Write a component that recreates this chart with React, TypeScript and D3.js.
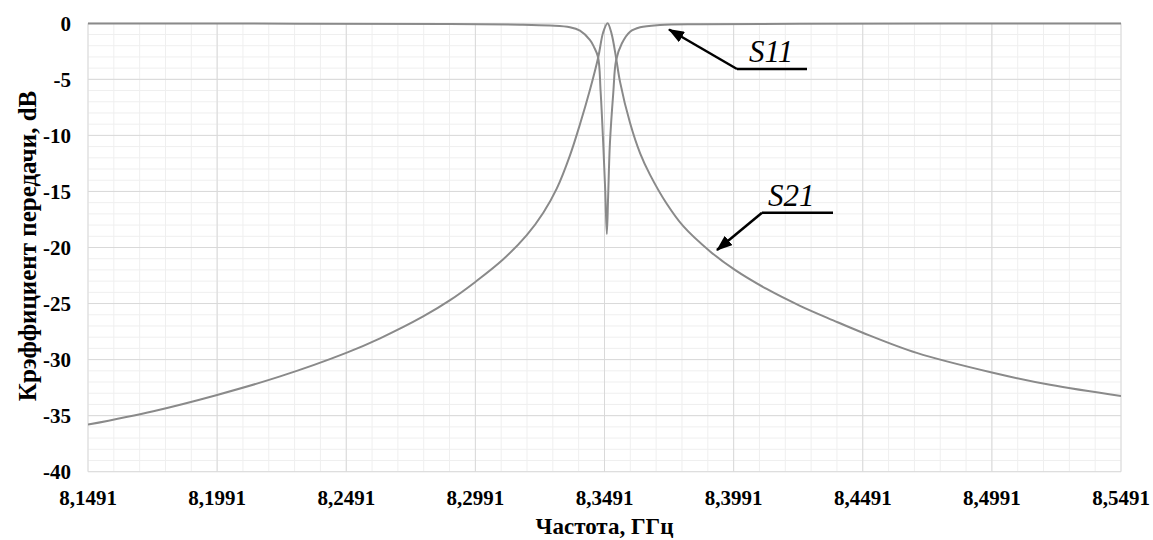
import React from "react";
import * as d3 from "d3";

// S21 (transmission): frequency in GHz, level in dB
const s21Freq = [
  8.1491, 8.1744, 8.1991, 8.2235, 8.2491, 8.2622, 8.2789, 8.2893, 8.2992,
  8.3099, 8.319, 8.3254, 8.3306, 8.3357, 8.3396, 8.3435, 8.3467, 8.3486,
  8.3503, 8.3518, 8.3536, 8.3551, 8.359, 8.3629, 8.3667, 8.3732, 8.3796,
  8.39, 8.3996, 8.4119, 8.4248, 8.4377, 8.4491, 8.47, 8.4991, 8.5216, 8.5491,
];
const s21Level = [
  -35.8, -34.6, -33.15, -31.5, -29.4, -28.1, -26.15, -24.7, -23.05, -21.05,
  -18.9, -16.9, -14.75, -11.8, -9.0, -5.9, -3.0, -0.8, 0, -0.9, -3.1, -5.2,
  -8.9, -11.6, -13.5, -16.1, -18.1, -20.35, -22.0, -23.7, -25.2, -26.5, -27.6,
  -29.4, -31.15, -32.25, -33.25,
];

// S11 (reflection)
const s11Freq = [
  8.1491, 8.2312, 8.2893, 8.3164, 8.328, 8.3357, 8.3396, 8.3435, 8.345,
  8.3466, 8.3476, 8.3486, 8.3494, 8.35, 8.3505, 8.3512, 8.3525, 8.3536,
  8.3558, 8.359, 8.3629, 8.3706, 8.3861, 8.4248, 8.5491,
];
const s11Level = [
  -0.02, -0.03, -0.06, -0.12, -0.2, -0.35, -0.66, -1.5, -2.1, -3.0, -6.1,
  -10.7, -15.0, -18.8, -15.5, -10.7, -6.2, -3.3, -1.8, -0.75, -0.35, -0.15,
  -0.08, -0.04, -0.02,
];

const xTickValues = [8.1491, 8.1991, 8.2491, 8.2991, 8.3491, 8.3991, 8.4491, 8.4991, 8.5491];
const xTickLabels = ["8,1491", "8,1991", "8,2491", "8,2991", "8,3491", "8,3991", "8,4491", "8,4991", "8,5491"];
const yTickValues = [0, -5, -10, -15, -20, -25, -30, -35, -40];

const W = 1153;
const H = 540;
const left = 88;
const right = 1121;
const top = 23.3;
const bottom = 471.7;

const FONT = '"Liberation Serif", "Times New Roman", Times, serif';

export default function App() {
  const x = d3.scaleLinear().domain([8.1491, 8.5491]).range([left, right]);
  const y = d3.scaleLinear().domain([-40, 0]).range([bottom, top]);

  const line = d3
    .line<[number, number]>()
    .x((d) => x(d[0]))
    .y((d) => y(d[1]))
    .curve(d3.curveCatmullRom.alpha(0.5));

  const s21Path = line(s21Freq.map((f, i) => [f, s21Level[i]]));
  const s11Path = line(s11Freq.map((f, i) => [f, s11Level[i]]));

  const minorX = d3.range(0, 41).map((i) => 8.1491 + i * 0.01);
  const minorY = d3.range(0, 41).map((i) => -i);

  const bold = { fontFamily: FONT, fontWeight: 700 } as React.CSSProperties;

  return (
    <svg
      width={W}
      height={H}
      style={{ position: "absolute", left: 0, top: 0, background: "#fff", fontFamily: FONT }}
    >
      <defs>
        <marker
          id="head"
          viewBox="0 0 16 12"
          refX="15"
          refY="6"
          markerWidth="16"
          markerHeight="12"
          markerUnits="userSpaceOnUse"
          orient="auto"
        >
          <path d="M0,0 L16,6 L0,12 z" fill="#000" />
        </marker>
        <clipPath id="plot">
          <rect x={left} y={top - 2} width={right - left} height={bottom - top + 2} />
        </clipPath>
      </defs>

      {/* minor grid */}
      <g stroke="#efefef" strokeWidth={1}>
        {minorX.map((f, i) => (
          <line key={"mx" + i} x1={x(f)} x2={x(f)} y1={top} y2={bottom} />
        ))}
        {minorY.map((v, i) => (
          <line key={"my" + i} x1={left} x2={right} y1={y(v)} y2={y(v)} />
        ))}
      </g>
      {/* major grid */}
      <g stroke="#d9d9d9" strokeWidth={1}>
        {xTickValues.map((f, i) => (
          <line key={"gx" + i} x1={x(f)} x2={x(f)} y1={top} y2={bottom} />
        ))}
        {yTickValues.map((v, i) => (
          <line key={"gy" + i} x1={left} x2={right} y1={y(v)} y2={y(v)} />
        ))}
      </g>

      <g clipPath="url(#plot)">
        <path d={s21Path || ""} fill="none" stroke="#8a8a8a" strokeWidth={2} />
        <path d={s11Path || ""} fill="none" stroke="#8a8a8a" strokeWidth={2} />
      </g>

      {/* tick labels */}
      <g style={{ ...bold, fontSize: 21 }} fill="#000">
        {yTickValues.map((v, i) => (
          <text key={"ty" + i} x={71} y={y(v)} dy="0.35em" textAnchor="end">
            {v === 0 ? "0" : "-" + Math.abs(v)}
          </text>
        ))}
        {xTickValues.map((f, i) => (
          <text key={"tx" + i} x={x(f)} y={505} textAnchor="middle">
            {xTickLabels[i]}
          </text>
        ))}
      </g>

      {/* axis titles */}
      <text
        x={(left + right) / 2}
        y={534}
        textAnchor="middle"
        style={{ ...bold, fontSize: 23 }}
      >
        Частота, ГГц
      </text>
      <text
        transform={`translate(36, 246) rotate(-90)`}
        textAnchor="middle"
        style={{ ...bold, fontSize: 25 }}
      >
        Крэффициент передачи, dB
      </text>

      {/* annotations */}
      <g stroke="#000" strokeWidth={2.5} fill="none">
        <line x1={807} y1={69} x2={737} y2={69} />
        <line x1={737} y1={69} x2={669} y2={29.5} markerEnd="url(#head)" />
        <line x1={833} y1={212.7} x2={762} y2={212.7} />
        <line x1={762} y1={212.7} x2={717} y2={250} markerEnd="url(#head)" />
      </g>
      <g style={{ fontFamily: FONT, fontStyle: "italic", fontSize: 31 }} fill="#000">
        <text x={749} y={62}>S11</text>
        <text x={768} y={206}>S21</text>
      </g>
    </svg>
  );
}
